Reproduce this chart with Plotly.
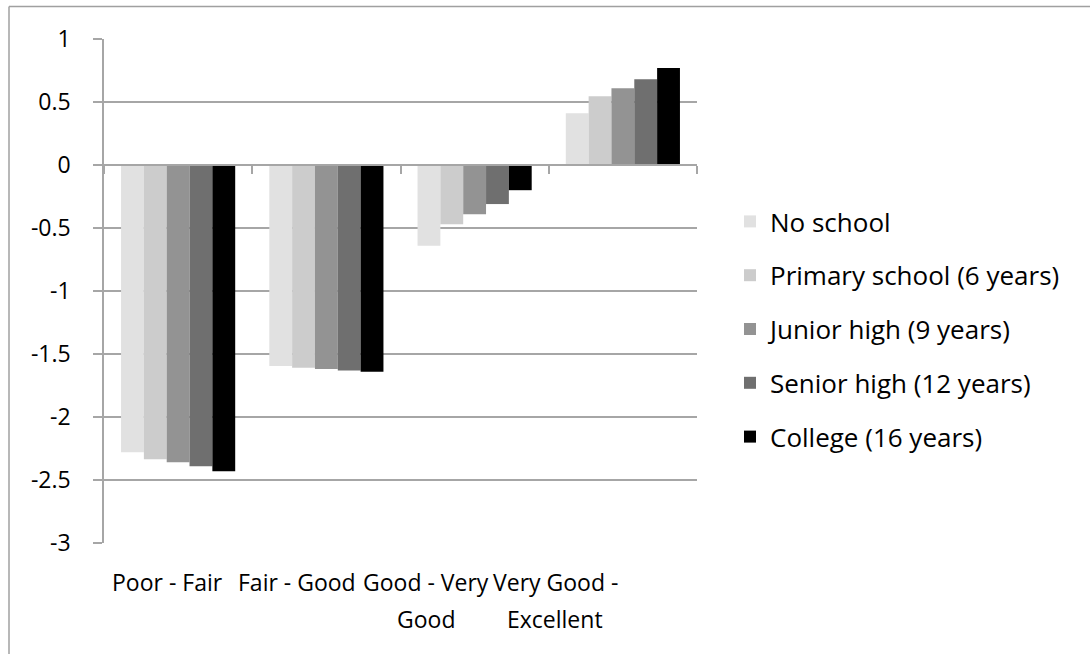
import plotly.graph_objects as go

# Ordered-probit style thresholds by self-rated health transition and schooling
categories = ["Poor - Fair", "Fair - Good", "Good - Very Good", "Very Good - Excellent"]
category_lines = [["Poor - Fair"], ["Fair - Good"], ["Good - Very", "Good"], ["Very Good -", "Excellent"]]

no_school = [-2.28, -1.595, -0.64, 0.41]
primary_school = [-2.335, -1.61, -0.47, 0.545]
junior_high = [-2.36, -1.62, -0.39, 0.61]
senior_high = [-2.39, -1.63, -0.31, 0.68]
college = [-2.43, -1.64, -0.20, 0.77]

series_names = ["No school", "Primary school (6 years)", "Junior high (9 years)",
                "Senior high (12 years)", "College (16 years)"]
series_values = [no_school, primary_school, junior_high, senior_high, college]
series_colors = ["#e1e1e1", "#cccccc", "#939393", "#6f6f6f", "#000000"]

y_tick_vals = [1, 0.5, 0, -0.5, -1, -1.5, -2, -2.5, -3]
y_tick_text = ["1", "0.5", "0", "-0.5", "-1", "-1.5", "-2", "-2.5", "-3"]

# Canvas and plot-area geometry (pixels)
W, H = 1090, 654
L, R, T, B = 104, 697, 39, 543
PW, PH = R - L, B - T

def px_x(x):
    return (x - L) / PW

def px_y(y):
    return (B - y) / PH

FONT = "Open Sans"
FS_AXIS = 23
FS_LEGEND = 26
GRID = "#a6a6a6"

fig = go.Figure()
for i, (name, vals, col) in enumerate(zip(series_names, series_values, series_colors)):
    fig.add_trace(go.Bar(
        x=categories, y=vals, name=name,
        marker=dict(color=col, line=dict(width=0)),
        legendgroup=f"g{i}",
    ))

fig.update_layout(
    width=W, height=H,
    margin=dict(l=L, r=W - R, t=T, b=H - B, pad=0),
    paper_bgcolor="white", plot_bgcolor="white",
    barmode="group", bargap=0.23, bargroupgap=0,
    font=dict(family=FONT, size=FS_AXIS, color="#000000"),
    xaxis=dict(
        type="category", categoryarray=categories,
        showticklabels=False, ticks="", showgrid=False, showline=False,
        zeroline=False, fixedrange=True,
    ),
    # axis line with boundary ticks sitting on the zero level
    xaxis2=dict(
        overlaying="x", anchor="free", position=px_y(T + PH * 1 / 4),
        range=[0, 4], tickvals=[0, 1, 2, 3, 4], ticks="outside", ticklen=8,
        tickwidth=1.5, tickcolor=GRID, showline=True, linecolor=GRID, linewidth=1.5,
        showticklabels=False, showgrid=False, zeroline=False,
    ),
    yaxis=dict(
        range=[-3, 1], tickvals=y_tick_vals, ticktext=y_tick_text,
        ticks="outside", ticklen=9, tickwidth=1.5, tickcolor=GRID,
        showline=True, linecolor=GRID, linewidth=1.5,
        showgrid=True, gridcolor=GRID, gridwidth=1.5,
        zeroline=False, ticklabelstandoff=18,
        tickfont=dict(family=FONT, size=FS_AXIS, color="#000000"),
    ),
    legend=dict(
        x=px_x(730), y=px_y(198), xanchor="left", yanchor="top",
        font=dict(family=FONT, size=FS_LEGEND, color="#000000"),
        tracegroupgap=17, bgcolor="rgba(0,0,0,0)",
    ),
    showlegend=True,
)

# invisible helper so the zero-level axis is rendered
fig.add_trace(go.Scatter(x=[0, 4], y=[0, 0], xaxis="x2", mode="none",
                         showlegend=False, hoverinfo="skip"))

# category labels below the plot area
label_centers = [167, 297, 426, 555]
for cx, lines in zip(label_centers, category_lines):
    for j, line in enumerate(lines):
        fig.add_annotation(
            x=px_x(cx), y=px_y(582 + 37 * j), xref="paper", yref="paper",
            text=line, showarrow=False, xanchor="center", yanchor="middle",
            font=dict(family=FONT, size=FS_AXIS, color="#000000"),
        )

# outer chart frame (top and left edges)
fig.add_shape(type="line", xref="paper", yref="paper",
              x0=px_x(9), x1=px_x(W + 5), y0=px_y(6.5), y1=px_y(6.5),
              line=dict(color="#a0a0a0", width=1.5))
fig.add_shape(type="line", xref="paper", yref="paper",
              x0=px_x(9), x1=px_x(9), y0=px_y(6.5), y1=px_y(H + 5),
              line=dict(color="#a0a0a0", width=1.5))

fig.write_html("out.html")
